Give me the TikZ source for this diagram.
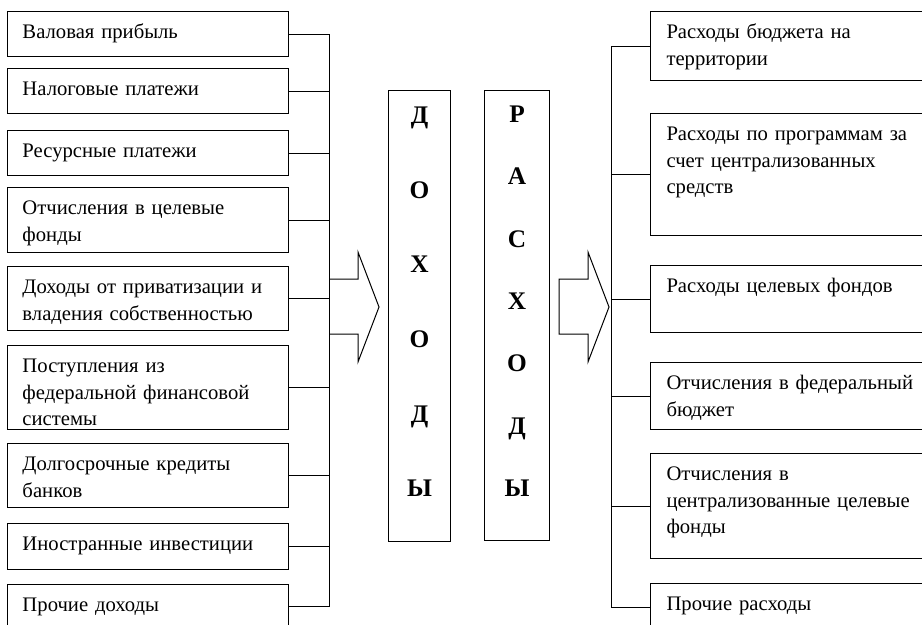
\documentclass[tikz,border=0pt]{standalone}
\usepackage{fontspec}
\setmainfont{Liberation Serif}
\usetikzlibrary{positioning}
\newdimen\upx
\upx=0.75pt

\begin{document}
\begin{tikzpicture}[x=0.75pt,y=-0.75pt,line width=0.75pt,
    item/.style={rectangle, draw, anchor=north west, align=left, inner xsep=15\upx, inner ysep=0pt, text height=27\upx, font=\fontsize{15.5pt}{20pt}\selectfont},
    initem/.style={item, text width=251\upx},
    outitem/.style={item, inner xsep=16\upx, text width=262\upx},
    word/.style={rectangle, draw, anchor=north west, align=center, inner sep=0pt, font=\bfseries\fontsize{19pt}{#1}\selectfont}]
        \useasboundingbox (0,0) rectangle (922,625);
        \clip (0,0) rectangle (922,625);
        \node[initem, text depth=18\upx] (in1) at (7,11) {Валовая прибыль};
        \node[initem, text depth=18\upx] (in2) at (7,68) {Налоговые платежи};
        \node[initem, text depth=18\upx] (in3) at (7,130) {Ресурсные платежи};
        \node[initem, text depth=38\upx] (in4) at (7,187) {Отчисления в целевые\\фонды};
        \node[initem, text depth=37\upx] (in5) at (7,266) {Доходы от приватизации и\\владения собственностью};
        \node[initem, text depth=57\upx] (in6) at (7,345) {Поступления из\\федеральной финансовой\\системы};
        \node[initem, text depth=37\upx] (in7) at (7,443) {Долгосрочные кредиты\\банков};
        \node[initem, text depth=19\upx] (in8) at (7,523) {Иностранные инвестиции};
        \node[initem, text depth=17\upx] (in9) at (7,584) {Прочие доходы};
        \node[word=56pt, text width=62\upx, text height=33\upx, text depth=418\upx] (dohody) at (388,90) {Д\\О\\Х\\О\\Д\\Ы};
        \node[word=46.75pt, text width=65\upx, text height=32\upx, text depth=418\upx] (rashody) at (484,90) {Р\\А\\С\\Х\\О\\Д\\Ы};
        \node[outitem, text depth=42\upx] (out1) at (650,11) {Расходы бюджета на\\территории};
        \node[outitem, text depth=95\upx] (out2) at (650,113) {Расходы по программам за\\счет централизованных\\средств};
        \node[outitem, text depth=40\upx] (out3) at (650,265) {Расходы целевых фондов};
        \node[outitem, text depth=40\upx] (out4) at (650,362) {Отчисления в федеральный\\бюджет};
        \node[outitem, text depth=78\upx] (out5) at (650,453) {Отчисления в\\централизованные целевые\\фонды};
        \node[outitem, text depth=21\upx] (out6) at (650,583) {Прочие расходы};
        \coordinate (lbus) at (329,0);
        \coordinate (rbus) at (611,0);
        \draw (in1.east) -- (in1.east -| lbus) -- (in9.east -| lbus) -- (in9.east);
        \foreach \i in {2,...,8}
            \draw (in\i.east) -- (in\i.east -| lbus);
        \draw (out1.west) -- (out1.west -| rbus) -- (out6.west -| rbus) -- (out6.west);
        \foreach \i in {2,...,5}
            \draw (out\i.west) -- (out\i.west -| rbus);
        \draw (329,279) -- (358,279) -- (358,252) -- (379,307) -- (358,362) -- (358,334) -- (329,334);
        \draw (559,279) -- (588,279) -- (588,252) -- (609,307) -- (588,362) -- (588,334) -- (559,334) -- cycle;
      \end{tikzpicture}
\end{document}
